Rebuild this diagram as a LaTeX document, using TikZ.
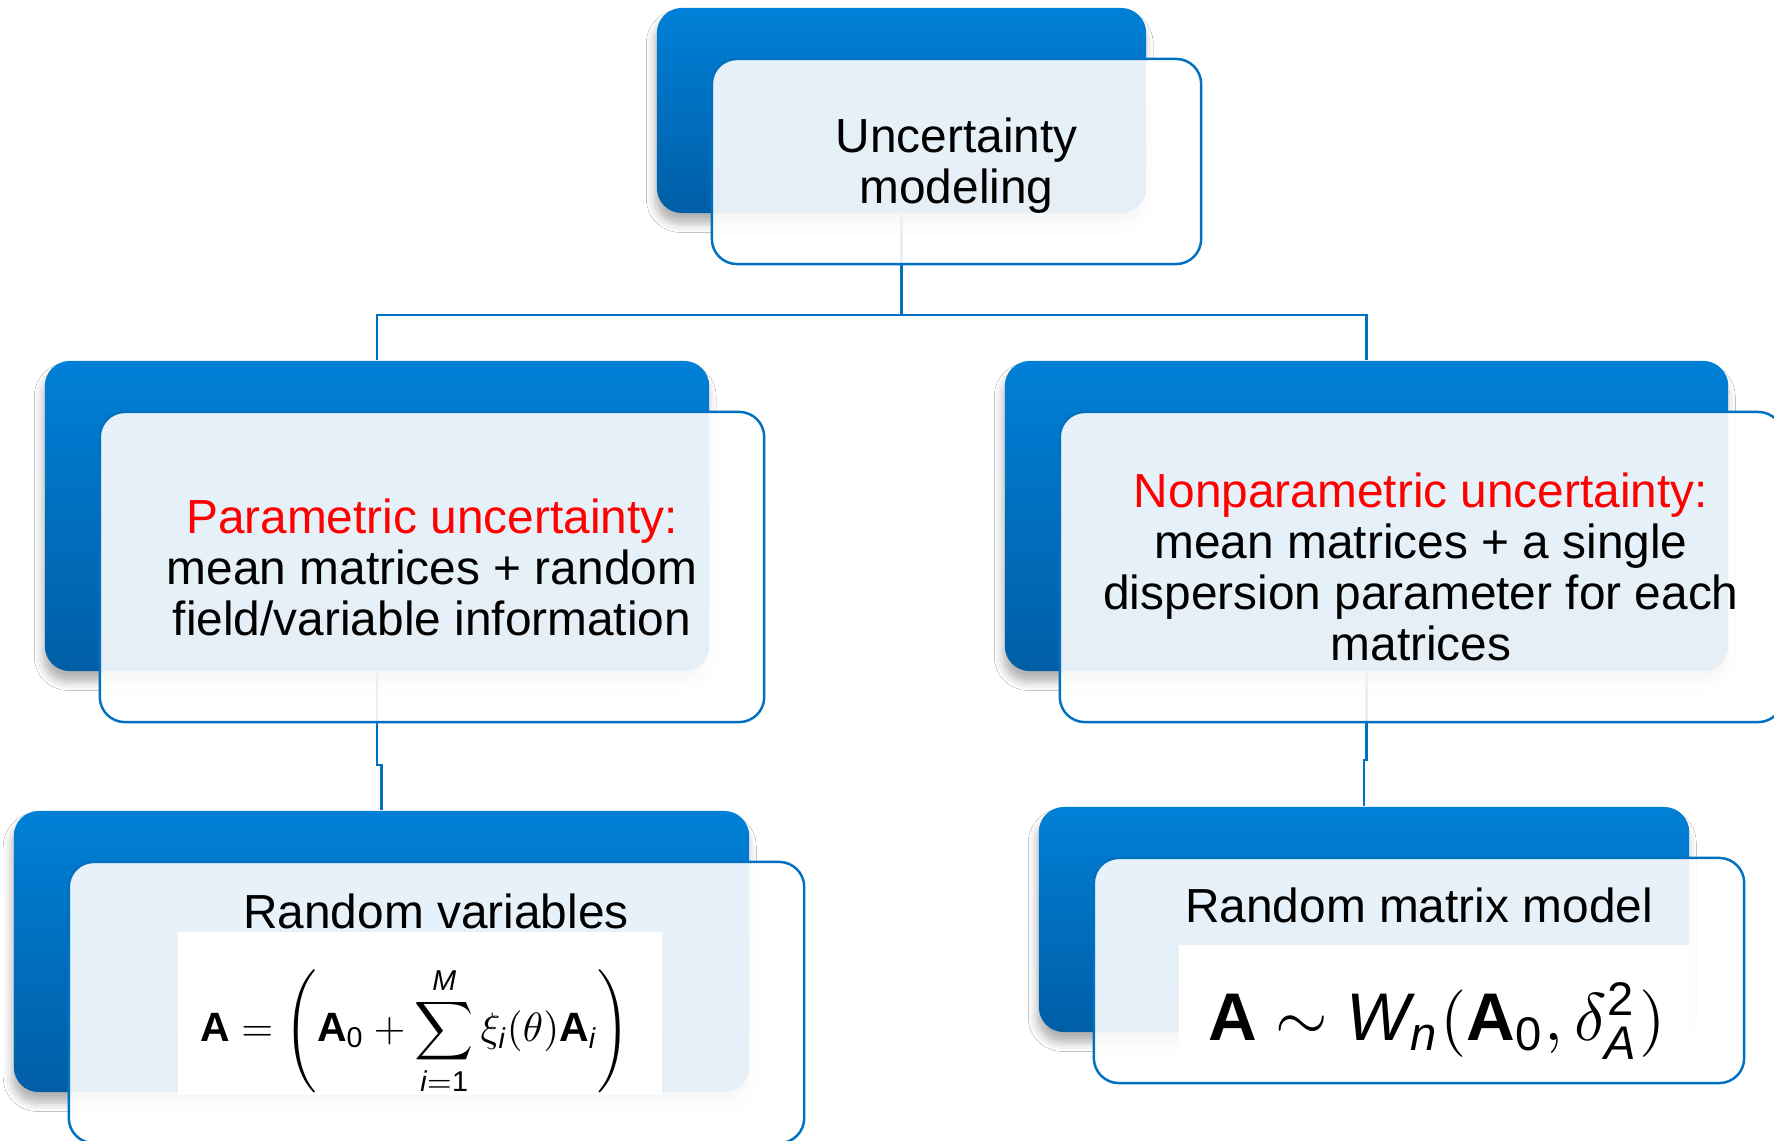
\documentclass[tikz,border=0pt]{standalone}
\usepackage{amsmath}
\usepackage{graphicx}
\usepackage{fontspec}
\setmainfont{Liberation Sans}
\usetikzlibrary{shadows.blur}
\definecolor{boxtop}{RGB}{0,128,215}
\definecolor{boxmid}{RGB}{0,121,205}
\definecolor{boxbot}{RGB}{0,94,166}
\definecolor{lineblue}{RGB}{0,112,192}
\definecolor{redtxt}{RGB}{255,0,0}
\newcommand{\bA}{\text{\bfseries A}}
\newcommand{\sit}[1]{\text{\itshape #1}}
\newcommand{\sd}[1]{\text{\upshape #1}}
\begin{document}
\begin{tikzpicture}[x=0.01cm, y=-0.01cm,
  bluebox/.style={rounded corners=0.25cm, inner sep=0pt, top color=boxtop, middle color=boxmid, bottom color=boxbot,
    blur shadow={shadow xshift=-0.5pt, shadow yshift=-3pt, shadow blur radius=2.5pt, shadow opacity=30}},
  lightbox/.style={draw=lineblue, line width=0.7pt, rounded corners=0.25cm, inner sep=0pt, fill=white, fill opacity=0.9, text opacity=1},
  conn/.style={draw=lineblue, line width=0.8pt},
  txt/.style={font=\fontsize{13.6}{14.5}\selectfont, align=center, text=black, inner sep=0pt},
  whitebox/.style={fill=white, inner sep=0pt}]
\useasboundingbox (0,0) rectangle (1774,1140);
\clip (0,0) rectangle (1774,1140);
\fill[white] (0,0) rectangle (1774,1140);
% blue boxes
\node[bluebox, minimum width=4.89cm, minimum height=2.05cm] (tb) at (901.5,110.5) {};
\node[bluebox, minimum width=6.64cm, minimum height=3.10cm] (lb) at (377,516) {};
\node[bluebox, minimum width=7.23cm, minimum height=3.10cm] (rb) at (1366.5,516) {};
\node[bluebox, minimum width=7.35cm, minimum height=2.81cm] (blb) at (381.5,951.5) {};
\node[bluebox, minimum width=6.50cm, minimum height=2.25cm] (brb) at (1364,919.5) {};
% connectors
\coordinate (hbar) at (0,315);
\coordinate (lj) at (0,765);
\coordinate (rj) at (0,760);
\draw[conn] (tb.south) -- (tb.south |- hbar) -| (lb.north);
\draw[conn] (tb.south |- hbar) -| (rb.north);
\draw[conn] (lb.south) -- (lb.south |- lj) -| (blb.north);
\draw[conn] (rb.south) -- (rb.south |- rj) -| (brb.north);
% light boxes
\node[lightbox, minimum width=4.89cm, minimum height=2.05cm] (tl) at (956.5,161.5) {};
\node[lightbox, minimum width=6.64cm, minimum height=3.10cm] (ll) at (432,567) {};
\node[lightbox, minimum width=7.23cm, minimum height=3.10cm] (rl) at (1421.5,567) {};
\node[lightbox, minimum width=7.35cm, minimum height=2.81cm] (bll) at (436.5,1002.5) {};
\node[lightbox, minimum width=6.50cm, minimum height=2.25cm] (brl) at (1419,970.5) {};
% formula backgrounds
\node[whitebox, minimum width=4.84cm, minimum height=1.63cm] (fl) at (420,1013.5) {};
\node[whitebox, minimum width=5.12cm, minimum height=1.30cm] (fr) at (1435,1010) {};
% texts
\node[txt] (tt) at (956.5,166) {Uncertainty\\modeling};
\node[txt] (lt) at (432,567) {\textcolor{redtxt}{Parametric uncertainty:}\\mean matrices + random\\field/variable information};
\node[txt] (rt) at (1421,567) {\textcolor{redtxt}{Nonparametric uncertainty:}\\mean matrices + a single\\dispersion parameter for each\\matrices};
\node[txt, anchor=base] (blt) at (436,928) {Random variables};
\node[txt, anchor=base] (brt) at (1419,922) {Random matrix model};
% formulas
\node[inner sep=0pt] (flm) at (415,1031) {\resizebox{4.29cm}{!}{$\displaystyle \bA = \left(\bA_{\sd{0}} + \sum_{\sit{i}=\sd{1}}^{\sit{M}} \xi_{\sit{i}}(\theta)\bA_{\sit{i}}\right)$}};
\node[inner sep=0pt] (frm) at (1437,1021) {\resizebox{4.57cm}{!}{$\bA \sim \sit{W}_{\sit{n}}(\bA_{\sd{0}}, \delta_{\sit{A}}^{\sd{2}})$}};
\end{tikzpicture}
\end{document}
